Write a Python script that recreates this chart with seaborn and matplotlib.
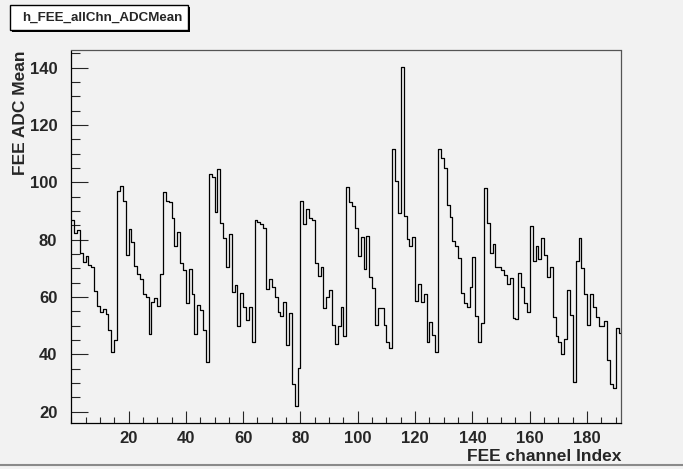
import numpy as np
import pandas as pd
import matplotlib
matplotlib.use("Agg")
import matplotlib.pyplot as plt
import seaborn as sns
from matplotlib.ticker import MultipleLocator, FixedLocator
from matplotlib.patches import Rectangle
from matplotlib.lines import Line2D

title = "h_FEE_allChn_ADCMean"
x_label = "FEE channel Index"
y_label = "FEE ADC Mean"

adc_mean = [
    # 0-15
    86.9, 82.2, 83.4, 75.2, 72.3, 74.4, 71.2, 70.5, 62.2, 56.9, 54.9, 55.8, 54.0, 48.3, 40.9, 44.8,
    # 16-31
    97.1, 98.7, 93.5, 74.7, 83.7, 79.3, 70.8, 67.9, 66.2, 61.0, 60.1, 47.0, 58.1, 59.5, 56.9, 67.9,
    # 32-47
    96.5, 93.5, 93.0, 87.4, 77.9, 82.8, 72.0, 69.4, 57.8, 69.7, 61.0, 47.1, 57.2, 55.5, 48.5, 37.2,
    # 48-63
    102.8, 102.0, 89.5, 104.5, 85.9, 80.5, 70.6, 81.9, 61.6, 64.1, 49.7, 61.3, 56.4, 52.0, 56.6, 44.1,
    # 64-79
    86.9, 86.3, 85.5, 84.0, 62.8, 66.2, 63.6, 60.1, 54.9, 53.5, 58.1, 43.3, 54.3, 29.7, 22.0, 35.3,
    # 80-95
    93.6, 85.5, 90.6, 87.4, 87.0, 71.7, 67.3, 70.3, 56.0, 60.1, 62.4, 50.2, 43.5, 49.7, 56.4, 46.5,
    # 96-111
    98.5, 93.3, 91.7, 84.2, 74.4, 81.0, 69.8, 81.4, 67.1, 63.0, 50.3, 56.3, 56.0, 50.3, 44.4, 42.1,
    # 112-127
    111.5, 100.5, 89.2, 140.1, 88.4, 80.2, 77.9, 81.0, 58.6, 64.4, 58.1, 60.9, 44.4, 51.4, 46.7, 40.9,
    # 128-143
    111.5, 108.4, 105.1, 92.1, 87.8, 79.5, 77.9, 73.5, 61.3, 57.8, 56.4, 63.6, 73.8, 53.4, 44.1, 51.0,
    # 144-159
    97.9, 85.9, 75.5, 78.4, 70.5, 70.3, 69.5, 67.7, 64.4, 66.7, 52.6, 52.2, 68.5, 63.4, 57.8, 54.9,
    # 160-175
    84.9, 72.7, 77.6, 73.1, 80.7, 74.7, 67.1, 70.3, 53.1, 46.4, 44.1, 40.1, 45.2, 62.4, 53.7, 30.2,
    # 176-191
    72.6, 80.5, 70.0, 61.0, 50.2, 61.0, 56.5, 53.1, 49.7, 49.9, 51.7, 38.0, 29.5, 28.1, 49.1, 47.3,
]
channels = list(range(len(adc_mean)))
x_ticks = [20, 40, 60, 80, 100, 120, 140, 160, 180]
y_ticks = [20, 40, 60, 80, 100, 120, 140]

df = pd.DataFrame({"channel": np.array(channels) + 0.5, "mean": adc_mean})

sns.set_theme(style="white")
plt.rcParams["font.family"] = ["Liberation Sans", "DejaVu Sans"]
plt.rcParams["font.weight"] = "bold"

bg = "#f2f2f2"
W, H = 683, 469
fig = plt.figure(figsize=(W / 100, H / 100), dpi=100, facecolor=bg)
ax = fig.add_axes([71.2 / W, 1 - 422.7 / H, (621.5 - 71.2) / W, (422.7 - 50.5) / H])
ax.set_facecolor(bg)

sns.histplot(data=df, x="channel", weights="mean", bins=len(adc_mean),
             binrange=(0, len(adc_mean)), element="step", fill=False,
             color="black", linewidth=0.9, ax=ax)

ax.set_xlim(0, 192)
ax.set_ylim(16.1, 146.0)
ax.xaxis.set_major_locator(FixedLocator(x_ticks))
ax.xaxis.set_minor_locator(MultipleLocator(5))
ax.yaxis.set_major_locator(FixedLocator(y_ticks))
ax.yaxis.set_minor_locator(MultipleLocator(5))
ax.set_xticklabels([str(t) for t in x_ticks], fontsize=12, fontweight="bold")
ax.set_yticklabels([str(t) for t in y_ticks], fontsize=12, fontweight="bold")
ax.tick_params(axis="x", which="major", direction="in", length=9, width=0.8, pad=6, bottom=True)
ax.tick_params(axis="x", which="minor", direction="in", length=4.5, width=0.8, bottom=True)
ax.tick_params(axis="y", which="major", direction="in", length=12.5, width=0.8, pad=10, left=True)
ax.tick_params(axis="y", which="minor", direction="in", length=6.3, width=0.8, left=True)

for s in ["left", "bottom"]:
    ax.spines[s].set_color("black")
    ax.spines[s].set_linewidth(0.9)
for s in ["top", "right"]:
    ax.spines[s].set_color("#555555")
    ax.spines[s].set_linewidth(0.9)

ax.set_xlabel(x_label, fontsize=12.5, fontweight="bold", loc="right", labelpad=2)
ax.set_ylabel(y_label, fontsize=12.5, fontweight="bold", loc="top", labelpad=1)

# title pave (ROOT style box with shadow)
bx, by, bw, bh = 10, 5, 178, 25
fig.patches.append(Rectangle(((bx + 2) / W, 1 - (by + bh + 2) / H), bw / W, bh / H,
                             transform=fig.transFigure, fc="black", ec="none", zorder=1))
fig.patches.append(Rectangle((bx / W, 1 - (by + bh) / H), bw / W, bh / H,
                             transform=fig.transFigure, fc="white", ec="black", lw=1.0, zorder=2))
fig.text((bx + 12) / W, 1 - (by + bh / 2) / H, title, fontsize=9.6, fontweight="bold",
         ha="left", va="center", zorder=3)

# canvas bottom border
fig.lines.append(Line2D([0, 1], [1 - 465 / H, 1 - 465 / H], transform=fig.transFigure,
                        color="#8a8a8a", lw=1.5))

fig.savefig("out.png", dpi=100, facecolor=bg)
